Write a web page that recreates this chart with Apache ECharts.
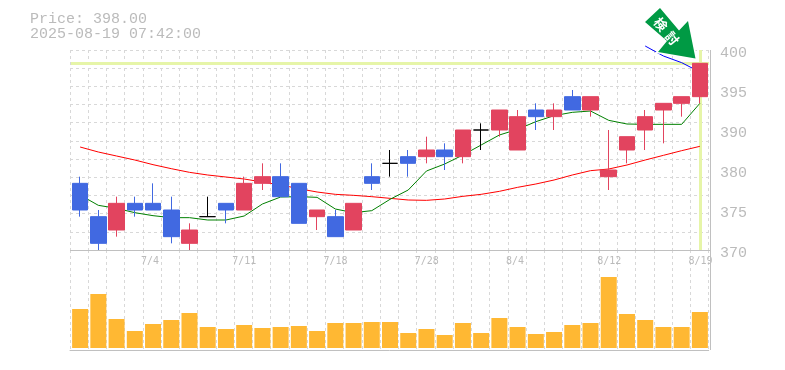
<!DOCTYPE html>
<html>
<head>
<meta charset="utf-8">
<style>
  html, body { margin: 0; background: #fff; }
  #chart { width: 785px; height: 370px; }
</style>
<script src="https://cdn.jsdelivr.net/npm/echarts@6/dist/echarts.min.js"></script>
</head>
<body>
<div id="chart"></div>
<script>
const categories = ['6/30', '7/1', '7/2', '7/3', '7/4', '7/7', '7/8', '7/9', '7/10', '7/11', '7/14', '7/15', '7/16', '7/17', '7/18', '7/22', '7/23', '7/24', '7/25', '7/28', '7/29', '7/30', '7/31', '8/1', '8/4', '8/5', '8/6', '8/7', '8/8', '8/12', '8/13', '8/14', '8/15', '8/18', '8/19']
const priceTicks = ['370', '375', '380', '390', '395', '400']
const lastPrice = 398

// open, close, low, high
const candles = [
  [380, 376, 375, 381], [375, 371, 370, 376], [373, 377, 372, 378], [377, 376, 375, 378], [377, 376, 376, 380],
  [376, 372, 371, 378], [371, 373, 370, 374], [375, 375, 375, 378], [377, 376, 374, 377], [376, 380, 376, 381],
  [380, 381, 379, 383], [381, 378, 378, 383], [380, 374, 374, 380], [375, 376, 373, 376], [375, 372, 372, 376],
  [373, 377, 373, 377], [381, 380, 379, 383], [383, 383, 381, 385], [384, 383, 381, 385], [384, 385, 383, 387],
  [385, 384, 382, 386], [384, 388, 383, 388], [388, 388, 385, 389], [388, 391, 387, 391], [385, 390, 385, 391],
  [391, 390, 388, 392], [390, 391, 388, 392], [393, 391, 391, 394], [391, 393, 390, 393], [381, 382, 379, 388],
  [385, 387, 383, 387], [388, 390, 385, 391], [391, 392, 386, 392], [392, 393, 390, 393], [393, 398, 392, 398]
]
const maRed = [385.45, 384.7, 384.1, 383.5, 382.8, 382.2, 381.65, 381.25, 380.95, 380.65, 380.2, 379.75, 379.2, 378.7, 378.35, 378.2, 378, 377.75, 377.5, 377.45, 377.65, 378.05, 378.35, 378.8, 379.4, 379.9, 380.5, 381.25, 381.9, 382.15, 382.75, 383.5, 384.2, 384.9, 385.55]
const maGreen = [378.25, 376.7, 376.25, 375.6, 375.15, 374.85, 374.85, 374.5, 374.5, 375.1, 376.9, 377.95, 378, 377.9, 376.15, 375.6, 375.9, 377.6, 379, 381.85, 382.9, 384.25, 385.75, 387.25, 388.1, 389.25, 390.15, 390.65, 390.85, 389.45, 388.9, 388.85, 388.85, 388.85, 392]
const maBlue = [null, null, null, null, null, null, null, null, null, null, null, null, null, null, null, null, null, null, null, null, null, null, null, null, null, null, null, null, null, null, null, 400.6, 399.1, 398.1, 396.7]
const volumes = [3900, 5400, 2900, 1700, 2400, 2800, 3500, 2100, 1900, 2300, 2000, 2100, 2200, 1700, 2500, 2500, 2600, 2600, 1500, 1900, 1300, 2500, 1500, 3000, 2100, 1400, 1600, 2300, 2500, 7100, 3400, 2800, 2100, 2100, 3600]

const mono = '"Liberation Mono", monospace'
const gridColor = '#d8d8d8'
const frameColor = '#c0c0c0'
const textColor = '#bbbbbb'
const highlight = '#e6f5a8'

function maSeries(data, color) {
  return {
    type: 'line',
    data: data,
    z: 1,
    clip: false,
    symbol: 'none',
    silent: true,
    lineStyle: { color: color, width: 1 }
  }
}

// value axis that only draws the dashed day separators
function dayAxis(gridIndex, extra) {
  return Object.assign({
    type: 'value',
    gridIndex: gridIndex,
    min: 0,
    max: categories.length,
    interval: 1,
    axisLine: { show: false },
    axisTick: { show: false },
    axisLabel: { show: false },
    splitLine: { show: true, lineStyle: { color: gridColor, type: [3, 3], width: 1 } }
  }, extra)
}

// one character of the white caption on the green arrow
function arrowChar(text, x, y) {
  return {
    type: 'text',
    silent: true,
    z: 11,
    x: x,
    y: y,
    rotation: -Math.PI * 50 / 180,
    style: {
      text: text,
      fill: '#ffffff',
      font: 'bold 13px "Noto Sans CJK JP"',
      align: 'center',
      verticalAlign: 'middle'
    }
  }
}

const chart = echarts.init(document.getElementById('chart'), null, { renderer: 'canvas' })

chart.setOption({
  animation: false,
  backgroundColor: '#ffffff',
  title: [
    {
      text: 'Price: ' + lastPrice.toFixed(2) + '\n2025-08-19 07:42:00',
      left: 25,
      top: 7,
      textStyle: { fontFamily: mono, fontSize: 15, fontWeight: 'normal', color: textColor, lineHeight: 15 }
    }
  ],
  grid: [
    { left: 71, width: 638, top: 50, height: 200 },
    { left: 71, width: 638, top: 250, height: 98 },
    { left: 70, width: 638.7, top: 50, height: 200 },
    { left: 70, width: 638.7, top: 250, height: 100 }
  ],
  xAxis: [
    { type: 'category', gridIndex: 0, data: categories, show: false },
    { type: 'category', gridIndex: 1, data: categories, show: false },
    dayAxis(2, {
      axisLabel: {
        show: true,
        showMinLabel: true,
        showMaxLabel: true,
        hideOverlap: false,
        align: 'left',
        margin: 6,
        padding: [0, 0, 0, -2],
        fontFamily: '"DejaVu Sans Mono", monospace',
        fontSize: 10,
        color: textColor,
        formatter: function(v) {
          return v % 5 === 4 ? categories[v] : ''
        }
      }
    }),
    dayAxis(3, {
      axisLine: { show: true, onZero: false, lineStyle: { color: frameColor, width: 1 } }
    })
  ],
  yAxis: [
    {
      type: 'value',
      gridIndex: 0,
      position: 'right',
      min: 370,
      max: 400,
      interval: 6,
      axisLine: { show: false },
      axisTick: { show: false },
      splitLine: { show: false },
      axisLabel: {
        margin: 11,
        fontFamily: mono,
        fontSize: 15,
        color: textColor,
        verticalAlign: 'top',
        lineHeight: 7,
        formatter: function(v) {
          return priceTicks[(v - 370) / 6]
        }
      }
    },
    {
      type: 'value',
      gridIndex: 1,
      min: 0,
      max: 9800,
      show: false
    },
    {
      type: 'value',
      gridIndex: 2,
      min: 0,
      max: 11,
      interval: 1,
      axisLine: { show: false },
      axisTick: { show: false },
      axisLabel: { show: false },
      splitLine: { show: true, lineStyle: { color: gridColor, type: [3, 3], width: 1 } }
    },
    {
      type: 'value',
      gridIndex: 3,
      min: 0,
      max: 1,
      interval: 1,
      axisLine: { show: false },
      axisTick: { show: false },
      axisLabel: { show: false },
      splitLine: { show: false }
    }
  ],
  series: [
    maSeries(maRed, '#ff0000'),
    maSeries(maGreen, '#008000'),
    maSeries(maBlue, '#0000ff'),
    {
      type: 'candlestick',
      data: candles,
      z: 3,
      barWidth: 16,
      silent: true,
      itemStyle: {
        color: '#e2445f',
        color0: '#4169e1',
        borderColor: '#e2445f',
        borderColor0: '#4169e1',
        borderColorDoji: '#000000',
        borderWidth: 1
      },
      markLine: {
        silent: true,
        symbol: 'none',
        z: 0,
        label: { show: false },
        lineStyle: { color: highlight, type: 'solid', width: 3 },
        data: [{ yAxis: lastPrice }, { xAxis: categories[categories.length - 1] }]
      }
    },
    {
      type: 'bar',
      xAxisIndex: 1,
      yAxisIndex: 1,
      data: volumes,
      barWidth: 16,
      silent: true,
      itemStyle: { color: '#ffb833' }
    }
  ],
  graphic: [
    { type: 'line', silent: true, z: 5, shape: { x1: 70, y1: 250.5, x2: 710, y2: 250.5 }, style: { stroke: frameColor, lineWidth: 1 } },
    { type: 'line', silent: true, z: 5, shape: { x1: 710.5, y1: 50, x2: 710.5, y2: 350 }, style: { stroke: frameColor, lineWidth: 1 } },
    {
      type: 'polygon',
      silent: true,
      z: 10,
      shape: { points: [[660, 8], [645, 22], [667, 41], [658, 52], [695.5, 58.5], [688, 21], [679, 30.5]] },
      style: { fill: '#009a44', stroke: '#ffffff', lineWidth: 3, strokeFirst: true }
    },
    arrowChar('検', 660.7, 24.3),
    arrowChar('討', 672.3, 38.3)
  ]
})
</script>
</body>
</html>
